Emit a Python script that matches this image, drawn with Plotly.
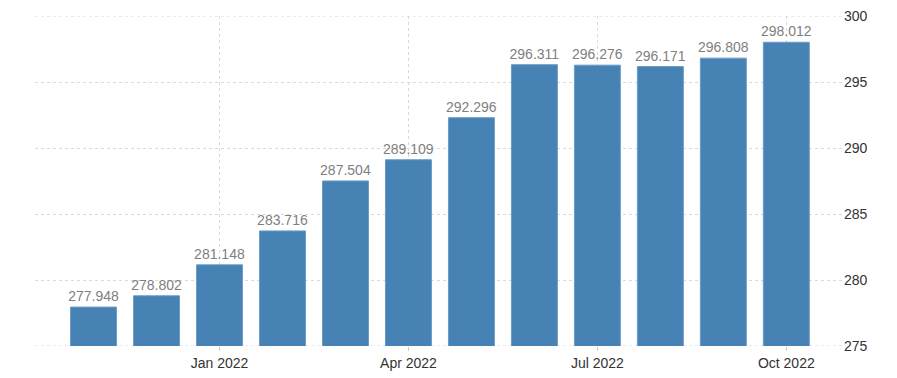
import plotly.graph_objects as go

months = ["Nov 2021", "Dec 2021", "Jan 2022", "Feb 2022", "Mar 2022", "Apr 2022",
          "May 2022", "Jun 2022", "Jul 2022", "Aug 2022", "Sep 2022", "Oct 2022"]
values = [277.948, 278.802, 281.148, 283.716, 287.504, 289.109,
          292.296, 296.311, 296.276, 296.171, 296.808, 298.012]
tick_labels = ["Jan 2022", "Apr 2022", "Jul 2022", "Oct 2022"]
y_ticks = [275, 280, 285, 290, 295, 300]

xs = list(range(len(months)))
tick_pos = [months.index(t) for t in tick_labels]

FONT = "Liberation Sans"
GRID = "#d9d9d9"

fig = go.Figure()
fig.add_trace(go.Bar(
    x=xs, y=values,
    marker=dict(color="#4682B4", line=dict(color="#6a9cc6", width=1)),
    text=[f"{v:.3f}" for v in values],
    textposition="outside",
    constraintext="none",
    textfont=dict(family=FONT, size=14, color="#808080"),
    cliponaxis=False,
    width=0.73,
    hoverinfo="skip",
))

# edge gridlines (plotly drops gridlines lying exactly on the plot edge)
edge_lines = [dict(type="line", xref="paper", yref="y", x0=0, x1=1,
                   y0=v, y1=v, layer="below",
                   line=dict(color=GRID, width=1, dash="dot"))
              for v in (y_ticks[0], y_ticks[-1])]

# page body has an 8px default margin, so the figure is offset by 8px
fig.update_layout(
    width=889, height=370,
    margin=dict(l=27, r=54, t=8, b=32, autoexpand=False),
    paper_bgcolor="white", plot_bgcolor="white",
    showlegend=False,
    font=dict(family=FONT, size=14, color="#333333"),
    shapes=edge_lines,
)
fig.update_xaxes(
    range=[-0.93, 11.9], automargin=False,
    tickvals=tick_pos, ticktext=tick_labels,
    showgrid=True, gridcolor=GRID, griddash="dot", gridwidth=1,
    ticks="outside", ticklen=4, tickcolor="#cccccc",
    showline=False, zeroline=False,
    tickfont=dict(family=FONT, size=14, color="#333333"),
)
fig.update_yaxes(
    range=[275, 300], side="right", automargin=False,
    tickvals=y_ticks, ticklabeloverflow="allow",
    showgrid=True, gridcolor=GRID, griddash="dot", gridwidth=1,
    ticks="", showline=False, zeroline=False,
    tickfont=dict(family=FONT, size=14, color="#333333"),
)

fig.write_html("out.html")
